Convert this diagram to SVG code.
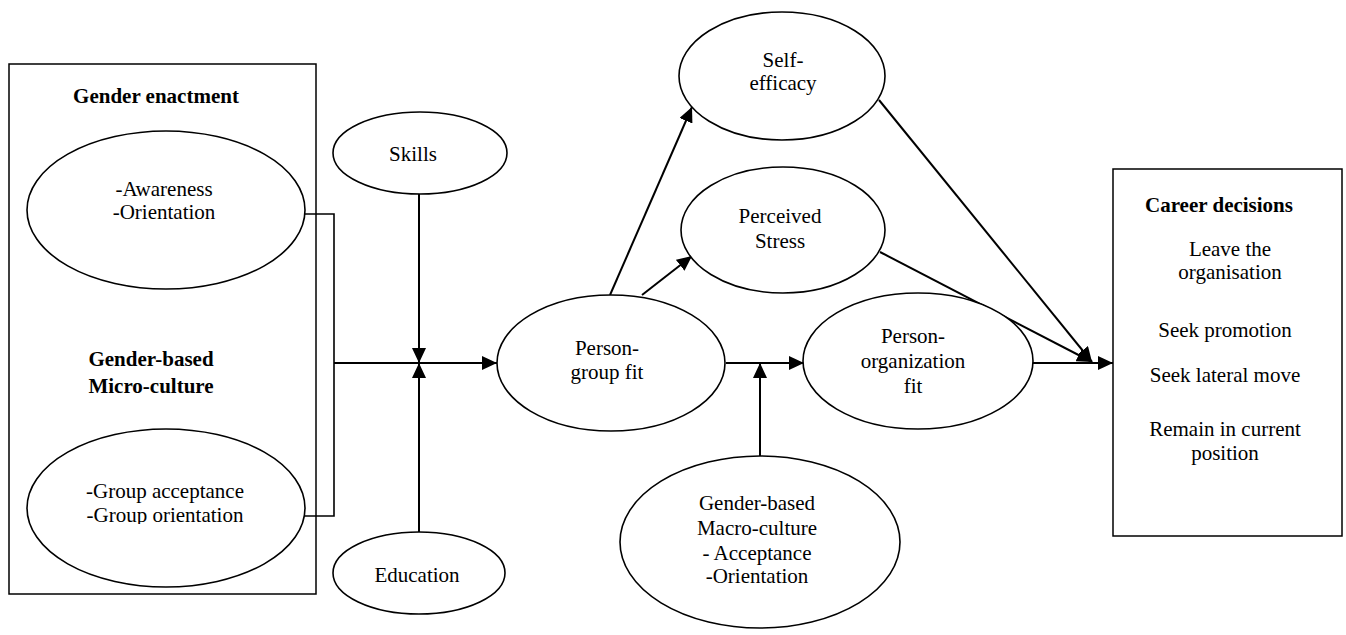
<svg xmlns="http://www.w3.org/2000/svg" width="1346" height="635" viewBox="0 0 1346 635">
<style>
.box{fill:none;stroke:#000;stroke-width:1.5}
.el{fill:#fff;stroke:#000;stroke-width:1.6}
.t{font-family:'Liberation Serif','Times New Roman',Times,serif;font-size:21px;fill:#000;text-anchor:middle}
.b{font-weight:bold}
.c{fill:none;stroke:#000;stroke-width:2}
.br{fill:none;stroke:#000;stroke-width:1.6}
</style>
<defs>
<marker id="ah" viewBox="0 0 15 14" refX="15" refY="7" markerWidth="15" markerHeight="14" markerUnits="userSpaceOnUse" orient="auto">
<path d="M0,0 L15,7 L0,14 z" fill="#000"/>
</marker>
<clipPath id="clipG"><rect x="20" y="420" width="300" height="104"/></clipPath>
</defs>
<rect width="1346" height="635" fill="#fff"/>

<g id="connectors">
<path class="br" d="M305,214 H334 V516 H305"/>
<line class="c" x1="334" y1="363" x2="497" y2="363" marker-end="url(#ah)"/>
<line class="c" x1="419" y1="194" x2="419" y2="363" marker-end="url(#ah)"/>
<line class="c" x1="419" y1="532" x2="419" y2="363" marker-end="url(#ah)"/>
<line class="c" x1="610" y1="295" x2="692" y2="107" marker-end="url(#ah)"/>
<line class="c" x1="642" y1="295" x2="692" y2="256" marker-end="url(#ah)"/>
<line class="c" x1="726" y1="363" x2="804" y2="363" marker-end="url(#ah)"/>
<line class="c" x1="760" y1="456" x2="760" y2="363" marker-end="url(#ah)"/>
<line class="c" x1="879" y1="100" x2="1092" y2="362" marker-end="url(#ah)"/>
<line class="c" x1="880" y1="252" x2="1092" y2="362" marker-end="url(#ah)"/>
<line class="c" x1="1033" y1="363" x2="1113" y2="363" marker-end="url(#ah)"/>
</g>

<g id="gender-micro-culture">
<rect class="box" x="9" y="64" width="307" height="530"/>
<text class="t b" x="156" y="103">Gender enactment</text>
<text class="t b" x="151" y="366">Gender-based</text>
<text class="t b" x="151" y="393">Micro-culture</text>
</g>

<g id="awareness">
<ellipse class="el" cx="166" cy="210" rx="139" ry="79"/>
<text class="t" x="164" y="196">-Awareness</text>
<text class="t" x="164" y="219">-Orientation</text>
</g>

<g id="group-acceptance">
<ellipse class="el" cx="166" cy="508" rx="139" ry="79"/>
<g clip-path="url(#clipG)">
<text class="t" x="165" y="498">-Group acceptance</text>
<text class="t" x="165" y="522">-Group orientation</text>
</g>
</g>

<g id="skills">
<ellipse class="el" cx="420" cy="153" rx="87" ry="41"/>
<text class="t" x="413" y="161">Skills</text>
</g>

<g id="education">
<ellipse class="el" cx="419" cy="573" rx="86" ry="41"/>
<text class="t" x="417" y="582">Education</text>
</g>

<g id="person-group-fit">
<ellipse class="el" cx="611" cy="363" rx="114" ry="68"/>
<text class="t" x="607" y="355">Person-</text>
<text class="t" x="607" y="379">group fit</text>
</g>

<g id="self-efficacy">
<ellipse class="el" cx="782" cy="76" rx="103" ry="64"/>
<text class="t" x="783" y="67">Self-</text>
<text class="t" x="783" y="90">efficacy</text>
</g>

<g id="perceived-stress">
<ellipse class="el" cx="783" cy="230" rx="102" ry="63"/>
<text class="t" x="780" y="223">Perceived</text>
<text class="t" x="780" y="248">Stress</text>
</g>

<g id="person-organization-fit">
<ellipse class="el" cx="918" cy="361" rx="115" ry="68"/>
<text class="t" x="913" y="343">Person-</text>
<text class="t" x="913" y="368">organization</text>
<text class="t" x="913" y="393">fit</text>
</g>

<g id="macro-culture">
<ellipse class="el" cx="760" cy="542" rx="140" ry="86"/>
<text class="t" x="757" y="510">Gender-based</text>
<text class="t" x="757" y="535">Macro-culture</text>
<text class="t" x="757" y="560">- Acceptance</text>
<text class="t" x="757" y="583">-Orientation</text>
</g>

<g id="career-decisions">
<rect class="box" x="1113" y="169" width="229" height="367"/>
<text class="t b" x="1219" y="212">Career decisions</text>
<text class="t" x="1230" y="256">Leave the</text>
<text class="t" x="1230" y="279">organisation</text>
<text class="t" x="1225" y="337">Seek promotion</text>
<text class="t" x="1225" y="382">Seek lateral move</text>
<text class="t" x="1225" y="436">Remain in current</text>
<text class="t" x="1225" y="460">position</text>
</g>
</svg>
